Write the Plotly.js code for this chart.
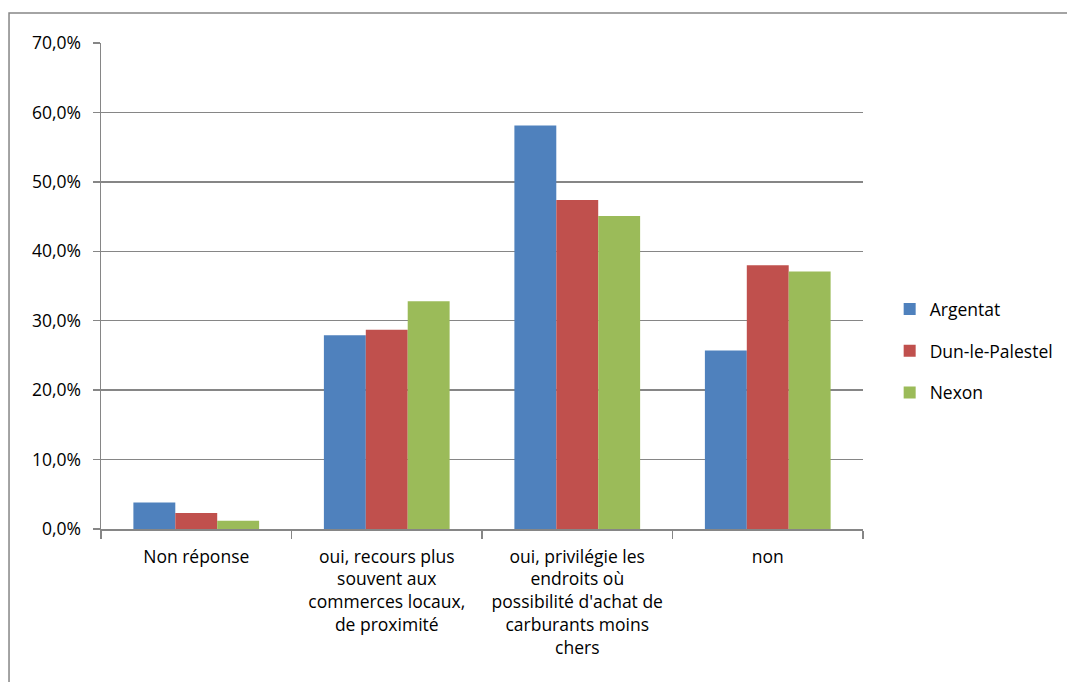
<!DOCTYPE html>
<html><head><meta charset="utf-8">
<script src="https://cdn.plot.ly/plotly-3.0.1.min.js"></script>
<style>html,body{margin:0;padding:0;background:#fff}#chart{width:1067px;height:682px}</style>
</head><body><div id="chart"></div>
<script>
const categories = ["Non réponse", "oui, recours plus<br>souvent aux<br>commerces locaux,<br>de proximité", "oui, privilégie les<br>endroits où<br>possibilité d'achat de<br>carburants moins<br>chers", "non"];
const seriesNames = ["Argentat", "Dun-le-Palestel", "Nexon"];
const argentat = [3.8, 27.9, 58.1, 25.7];
const dun = [2.3, 28.7, 47.4, 38.0];
const nexon = [1.2, 32.8, 45.1, 37.1];
const colors = ["#4F81BD", "#C0504D", "#9BBB59"];
const yTicks = [0, 10, 20, 30, 40, 50, 60, 70];
const yTickText = yTicks.map(v => v.toFixed(1).replace(".", ",") + "%");

const font = "'Open Sans', sans-serif";
const traces = [argentat, dun, nexon].map((v, i) => ({
  type: "bar", x: categories, y: v, name: seriesNames[i], legendgroup: "g" + i,
  marker: {color: colors[i], line: {width: 0}}
}));
const layout = {
  width: 1067, height: 682,
  margin: {l: 101, r: 204, t: 43, b: 153, autoexpand: false},
  paper_bgcolor: "#fff", plot_bgcolor: "#fff",
  barmode: "group", bargap: 0.34, bargroupgap: 0,
  font: {family: font, size: 17.5, color: "#000"},
  xaxis: {type: "category", tickson: "boundaries", ticks: "outside", ticklen: 8, tickcolor: "#868686", tickwidth: 1.5,
    showline: true, linecolor: "#868686", linewidth: 1.5, showgrid: false, tickfont: {size: 17.5}, automargin: false,
    ticklabelstandoff: 11},
  yaxis: {range: [0, 70], tickvals: yTicks, ticktext: yTickText, ticks: "outside", ticklen: 7,
    tickcolor: "#868686", tickwidth: 1.5, showline: true, linecolor: "#868686", linewidth: 1.5,
    gridcolor: "#868686", gridwidth: 1.5, zeroline: false, tickfont: {size: 17.5}, automargin: false,
    ticklabelstandoff: 8},
  legend: {x: 1.035, y: 0.366, xanchor: "left", yanchor: "middle", font: {size: 17.5}, tracegroupgap: 16, itemwidth: 30},
  shapes: [{type: "rect", xref: "paper", yref: "paper", x0: -0.1207, x1: 1.6, y0: -0.5, y1: 1.0617,
    line: {color: "#868686", width: 1.5}}]
};
Plotly.newPlot("chart", traces, layout, {displayModeBar: false, staticPlot: true});
</script></body></html>
